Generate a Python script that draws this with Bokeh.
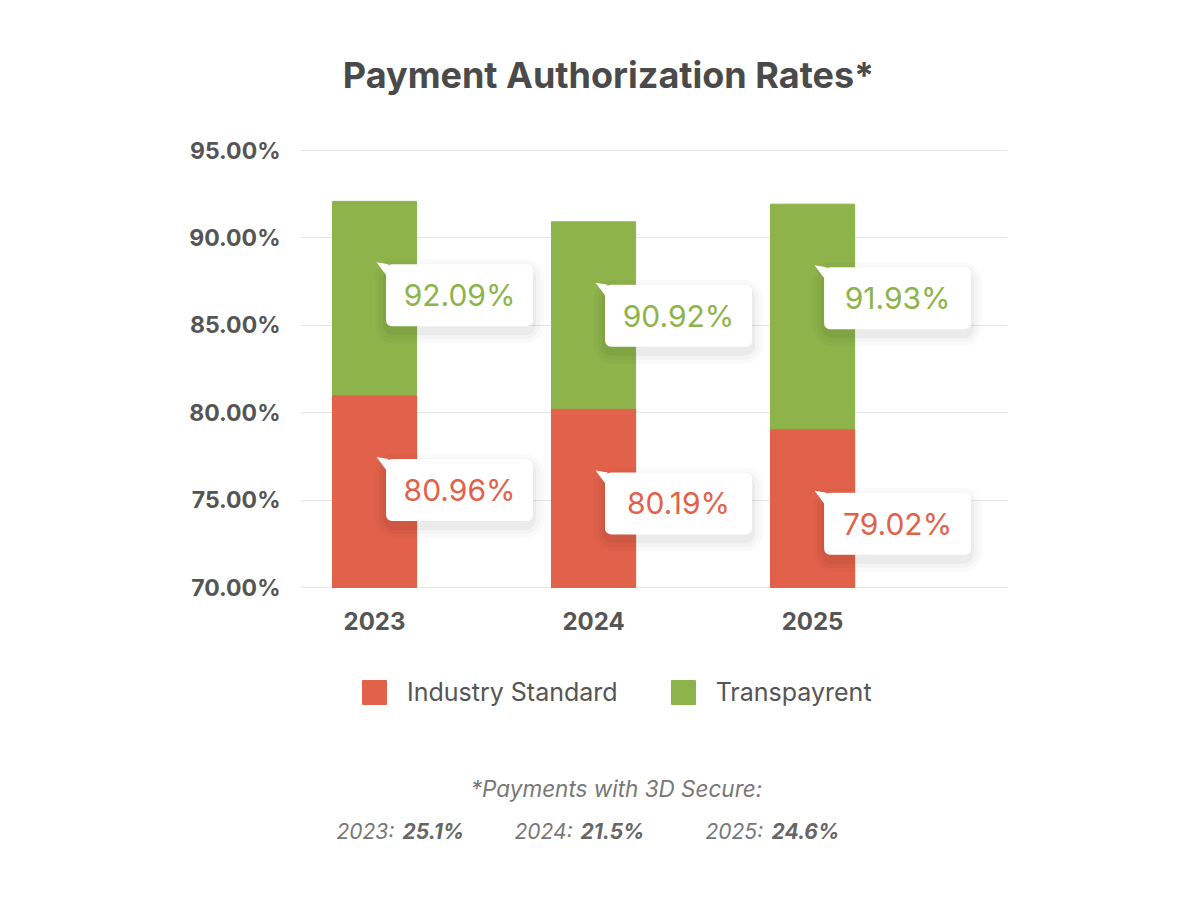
from bokeh.plotting import figure
from bokeh.models import (Range1d, FixedTicker, PrintfTickFormatter, Label,
                          Legend, LegendItem, ColumnDataSource)
from bokeh.core.properties import value
from bokeh.embed import file_html
from bokeh.resources import INLINE

# ---------------- data ----------------
years = ["2023", "2024", "2025"]
industry = [80.96, 80.19, 79.02]
transpayrent = [92.09, 90.92, 91.93]
secure_3ds = [25.1, 21.5, 24.6]
y_ticks = [70, 75, 80, 85, 90, 95]
series_names = ["Industry Standard", "Transpayrent"]
title_text = "Payment Authorization Rates*"
footnote_text = "*Payments with 3D Secure:"

# ---------------- style / layout ----------------
RED = "#E2614A"
GREEN = "#8DB34A"
FONT = "Inter"
W, H = 1184, 884
FL, FR = 300, 1007                 # frame left / right (px)
TOP_PX, BOT_PX = 150, 587          # pixel rows of the top / bottom tick
BASE, TOPV = y_ticks[0], y_ticks[-1]
PXY = (BOT_PX - TOP_PX) / (TOPV - BASE)
Y1 = TOPV + TOP_PX / PXY
Y0 = BASE - (H - BOT_PX) / PXY
X0, X1 = -0.338, 2.89
PXX = (FR - FL) / (X1 - X0)
BAR_W = 0.384
FOOT_GROUP_LEFT = [336, 514, 705]  # px, left edge of each footnote group


def to_data(ix, iy):
    """page pixel -> data coordinates"""
    return X0 + (ix - FL) / PXX, Y1 - iy / PXY


idx = list(range(len(years)))

p = figure(width=W, height=H, x_range=Range1d(X0, X1), y_range=Range1d(Y0, Y1),
           output_backend="svg", toolbar_location=None,
           min_border_left=FL, min_border_right=W - FR,
           min_border_top=0, min_border_bottom=0)
p.outline_line_color = None
p.background_fill_color = "white"
p.border_fill_color = "white"
p.xgrid.grid_line_color = None
p.ygrid.grid_line_color = "#e6e6e6"
p.ygrid.ticker = FixedTicker(ticks=y_ticks)

p.yaxis.ticker = FixedTicker(ticks=y_ticks)
p.yaxis.formatter = PrintfTickFormatter(format="%.2f%%")
p.xaxis.ticker = FixedTicker(ticks=idx)
p.xaxis.major_label_overrides = {i: y for i, y in zip(idx, years)}
p.xaxis.fixed_location = BASE
for ax in (p.xaxis, p.yaxis):
    ax.axis_line_color = None
    ax.major_tick_line_color = None
    ax.minor_tick_line_color = None
    ax.major_tick_out = 0
    ax.major_tick_in = 0
    ax.major_label_text_font = FONT
    ax.major_label_text_font_style = "bold"
    ax.major_label_text_color = "#555555"
p.yaxis.major_label_text_font_size = "23px"
p.xaxis.major_label_text_font_size = "24px"
p.yaxis.major_label_standoff = 20
p.xaxis.major_label_standoff = 24

src = ColumnDataSource(dict(x=idx, industry=industry, transpayrent=transpayrent))
g = p.vbar(x="x", top="transpayrent", bottom=BASE, width=BAR_W, color=GREEN, source=src)
r = p.vbar(x="x", top="industry", bottom=BASE, width=BAR_W, color=RED, source=src)


def callout(vals, color):
    cx = [i + 85 / PXX for i in idx]
    cy = [v - 94 / PXY for v in vals]
    for k, a in [(22, 0.018), (14, 0.025), (6, 0.035)]:
        p.rect(x=cx, y=[c - 6 / PXY for c in cy], width=147 + k, height=62 + k,
               width_units="screen", height_units="screen",
               fill_color="black", fill_alpha=a, line_color=None, border_radius=8 + k // 2)
    p.rect(x=cx, y=cy, width=147, height=62, width_units="screen", height_units="screen",
           fill_color="white", line_color=None, border_radius=6)
    left = [i + 12 / PXX for i in idx]
    top = [v - 63 / PXY for v in vals]
    xs = [[l - 10 / PXX, l + 2 / PXX, l + 2 / PXX] for l in left]
    ys = [[t + 2 / PXY, t, t - 14 / PXY] for t in top]
    p.patches(xs=xs, ys=ys, fill_color="white", line_color=None)
    p.text(x=cx, y=cy, text=[f"{v:.2f}%" for v in vals], text_align="center",
           text_baseline="middle", text_font=value(FONT), text_font_size=value("30px"),
           text_color=color)


callout(transpayrent, GREEN)
callout(industry, RED)

legend = Legend(items=[LegendItem(label=series_names[0], renderers=[r]),
                       LegendItem(label=series_names[1], renderers=[g])],
                orientation="horizontal", location=(59, H - 707),
                glyph_width=30, glyph_height=30, label_standoff=18, spacing=50,
                label_text_font=FONT, label_text_font_size="25px",
                label_text_color="#555555", border_line_color=None,
                background_fill_alpha=0)
p.add_layout(legend)

tx, ty = to_data(608, 74)
p.add_layout(Label(x=tx, y=ty, text=title_text, text_align="center", text_baseline="middle",
                   text_font=FONT, text_font_size="36px", text_font_style="bold",
                   text_color="#4a4a4a"))

fx, fy = to_data(616, 788)
p.add_layout(Label(x=fx, y=fy, text=footnote_text, text_align="center", text_baseline="middle",
                   text_font=FONT, text_font_size="22.5px", text_font_style="italic",
                   text_color="#777777"))

for yr, pct, gx in zip(years, secure_3ds, FOOT_GROUP_LEFT):
    ax_, ay_ = to_data(gx, 831)
    bx_, by_ = to_data(gx + 66, 831)
    p.add_layout(Label(x=ax_, y=ay_, text=f"{yr}:", text_align="left", text_baseline="middle",
                       text_font=FONT, text_font_size="21px", text_font_style="italic",
                       text_color="#777777"))
    p.add_layout(Label(x=bx_, y=by_, text=f"{pct}%", text_align="left", text_baseline="middle",
                       text_font=FONT, text_font_size="21px", text_font_style="bold italic",
                       text_color="#666666"))

open("out.html", "w").write(file_html(p, INLINE))
